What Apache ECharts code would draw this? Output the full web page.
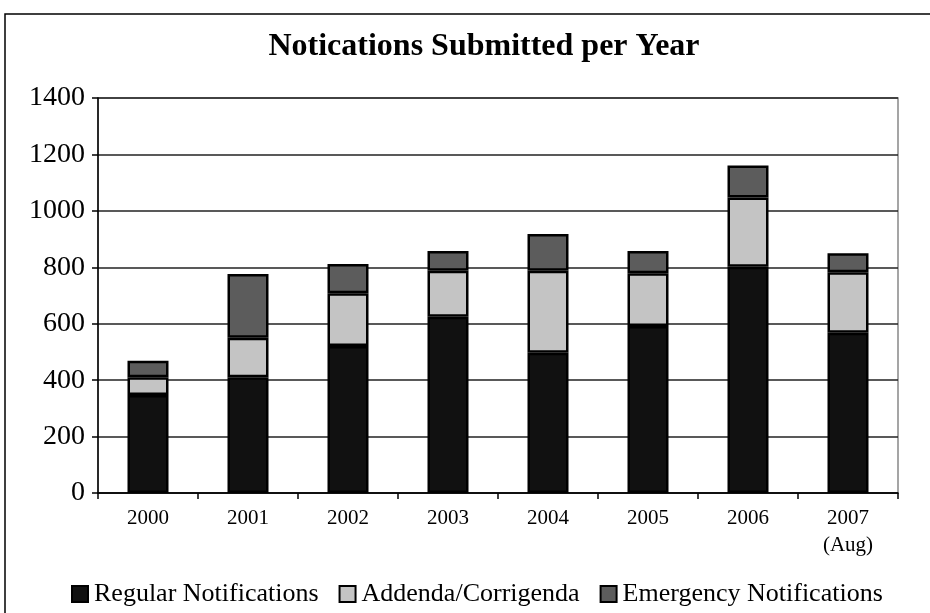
<!DOCTYPE html>
<html>
<head>
<meta charset="utf-8">
<script src="https://cdn.jsdelivr.net/npm/echarts@6/dist/echarts.min.js"></script>
<style>
  html, body { margin: 0; padding: 0; background: #fff; }
  #chart { width: 930px; height: 613px; }
</style>
</head>
<body>
<div id="chart"></div>
<script>
  // data
  const years = ['2000', '2001', '2002', '2003', '2004', '2005', '2006', '2007\n(Aug)']
  const regular = [347, 410, 521, 625, 497, 592, 802, 568]
  const addenda = [63, 140, 187, 163, 291, 187, 245, 214]
  const emergency = [59, 226, 104, 70, 130, 79, 114, 68]
  const yTicks = [0, 200, 400, 600, 800, 1000, 1200, 1400]

  const font = 'Liberation Serif, Times New Roman, serif'

  const myChart = echarts.init(document.getElementById('chart'))

  function stackSeries(name, data, color) {
    return {
      name: name,
      type: 'bar',
      stack: 'total',
      barWidth: 41,
      data: data,
      itemStyle: {
        color: color,
        borderColor: '#000',
        borderWidth: 2.5
      }
    }
  }

  const options = {
    backgroundColor: '#fff',
    animation: false,
    title: {
      text: 'Notications Submitted per Year',
      left: 479,
      textAlign: 'center',
      top: 26,
      textStyle: { fontFamily: font, fontSize: 32, fontWeight: 'bold', color: '#000' }
    },
    graphic: [
      {
        type: 'rect',
        shape: { x: 5, y: 14, width: 1000, height: 1000 },
        style: { fill: 'none', stroke: '#000', lineWidth: 1.5 },
        silent: true
      }
    ],
    legend: {
      bottom: 1,
      left: 66,
      itemWidth: 16,
      itemHeight: 16,
      itemGap: 20,
      icon: 'rect',
      textStyle: { fontFamily: font, fontSize: 26, color: '#000', padding: [0, 0, 0, 1] },
      data: ['Regular Notifications', 'Addenda/Corrigenda', 'Emergency Notifications']
    },
    grid: {
      left: 98,
      right: 32,
      top: 98,
      bottom: 120,
      show: true,
      borderColor: '#888',
      borderWidth: 1.5
    },
    xAxis: {
      type: 'category',
      data: years,
      axisLine: { lineStyle: { color: '#000', width: 1.5 } },
      axisTick: { show: true, length: 6, lineStyle: { color: '#000', width: 1.5 } },
      axisLabel: { fontFamily: font, fontSize: 21, color: '#000', margin: 12, lineHeight: 27 }
    },
    yAxis: {
      type: 'value',
      min: yTicks[0],
      max: yTicks[yTicks.length - 1],
      interval: 200,
      axisLine: { show: true, lineStyle: { color: '#000', width: 1.5 } },
      axisTick: { show: true, length: 6, lineStyle: { color: '#000', width: 1.5 } },
      axisLabel: { fontFamily: font, fontSize: 28, color: '#000', margin: 13, formatter: function (v) { return String(v) } },
      splitLine: { lineStyle: { color: '#222', width: 1.5 } }
    },
    series: [
      stackSeries('Regular Notifications', regular, '#111111'),
      stackSeries('Addenda/Corrigenda', addenda, '#c4c4c4'),
      stackSeries('Emergency Notifications', emergency, '#5c5c5c')
    ]
  }

  myChart.setOption(options)
</script>
</body>
</html>
